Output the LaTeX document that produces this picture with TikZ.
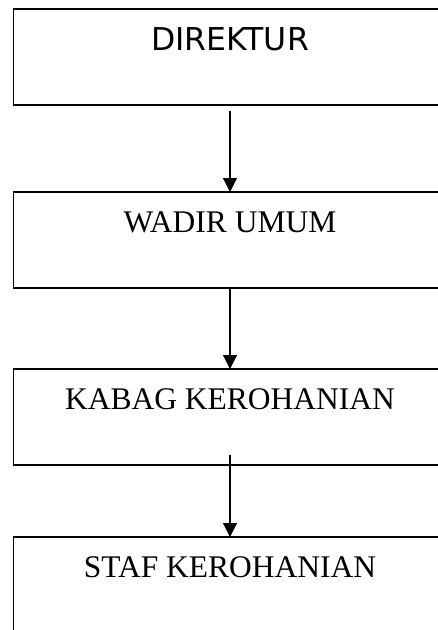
\documentclass[tikz,border=0pt]{standalone}
\usepackage{fontspec}
\setmainfont{Liberation Serif}
\newfontfamily\dejavu{DejaVu Sans}
\usetikzlibrary{positioning,arrows.meta}

\begin{document}
\begin{tikzpicture}[
                        box/.style={draw, line width=1.2pt, rectangle, anchor=north, minimum width=433pt, inner xsep=0pt, inner ysep=0pt, outer sep=0pt, text height=40pt, text depth=56pt, font=\fontsize{31.5}{36}\selectfont},
                        link/.style={-{Triangle[width=14pt,length=14pt]}, line width=1.2pt}
                    ]
                        \useasboundingbox (0,0) rectangle (437pt,-630pt);
                        \node [box, font=\dejavu\fontsize{31.5}{36}\selectfont, text height=41pt, text depth=55pt] (dir) at (230pt,-9pt) {DIREKTUR};
                        \node [box, below=87pt of dir] (wadir) {WADIR UMUM};
                        \node [box, below=81pt of wadir] (kabag) {KABAG KEROHANIAN};
                        \node [box, below=72pt of kabag] (staf) {STAF KEROHANIAN};
                        \draw [link, shorten <=6pt] (dir) -- (wadir);
                        \draw [link] (wadir) -- (kabag);
                        \draw [link, shorten <=-10pt] (kabag) -- (staf);
                    \end{tikzpicture}
\end{document}
